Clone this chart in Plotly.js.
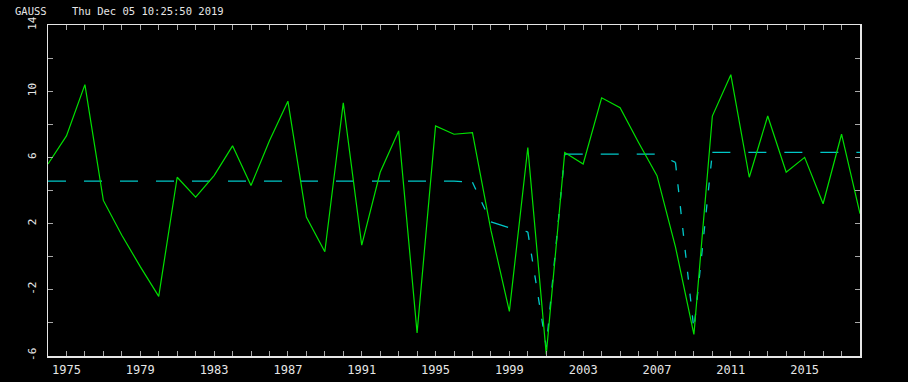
<!DOCTYPE html>
<html>
<head>
<meta charset="utf-8">
<script src="https://cdn.plot.ly/plotly-3.0.1.min.js"></script>
<style>
  html, body { margin: 0; padding: 0; background: #000; }
  #chart { width: 908px; height: 382px; }
</style>
</head>
<body>
<div id="chart"></div>
<script>
// Years 1974..2018
const years = [1974,1975,1976,1977,1978,1979,1980,1981,1982,1983,1984,1985,1986,1987,1988,1989,
  1990,1991,1992,1993,1994,1995,1996,1997,1998,1999,2000,2001,2002,2003,2004,2005,2006,2007,
  2008,2009,2010,2011,2012,2013,2014,2015,2016,2017,2018];

// Observed series (solid green)
const observed = [5.6,7.3,10.4,3.4,1.3,-0.6,-2.4,4.8,3.6,4.9,6.7,4.3,7.0,9.4,2.4,0.3,
  9.3,0.7,5.1,7.6,-4.6,7.9,7.4,7.5,1.6,-3.3,6.6,-5.9,6.3,5.6,9.6,9.0,6.9,4.9,
  0.6,-4.7,8.5,11.0,4.8,8.5,5.1,6.0,3.2,7.4,2.6];

// Fitted / regime series (dashed cyan)
const fitted = [4.57,4.57,4.57,4.57,4.57,4.57,4.57,4.57,4.57,4.57,4.57,4.57,4.57,4.57,4.57,4.57,
  4.57,4.57,4.57,4.57,4.57,4.57,4.57,4.5,2.1,1.75,1.5,-5.45,6.2,6.2,6.2,6.2,6.2,6.2,
  5.7,-4.4,6.3,6.3,6.3,6.3,6.3,6.3,6.3,6.3,6.3];

const yTicks = [-6,-2,2,6,10,14];
const xTicks = [1975,1979,1983,1987,1991,1995,1999,2003,2007,2011,2015];
const titleText = "GAUSS\u00a0\u00a0\u00a0\u00a0Thu Dec 05 10:25:50 2019";

const axisColor = "#e6e6e6";
const tickColor = "#a8a8a8";
const cyan = "#00c8c8";

// The dashed line restarts its dash pattern on each run of similar slope
// (as in the original plotting device), so split it into runs.
function cyanRuns() {
  const runs = [];
  let cur = null;
  for (let i = 0; i < years.length - 1; i++) {
    const steep = Math.abs(fitted[i + 1] - fitted[i]) > 1.2;
    if (!cur || cur.steep !== steep) {
      cur = { steep: steep, x: [years[i]], y: [fitted[i]] };
      runs.push(cur);
    }
    cur.x.push(years[i + 1]);
    cur.y.push(fitted[i + 1]);
  }
  return runs.map(r => ({
    x: r.x, y: r.y, type: "scatter", mode: "lines",
    line: { color: cyan, width: 1.3, dash: r.steep ? "8px,14px" : "18px,18px" },
    hoverinfo: "skip"
  }));
}

const traces = cyanRuns().concat([
  {
    x: years, y: observed, type: "scatter", mode: "lines",
    line: { color: "#00e000", width: 1.2 },
    hoverinfo: "skip"
  }
]);

const layout = {
  width: 908, height: 382,
  paper_bgcolor: "#000000", plot_bgcolor: "#000000",
  margin: { l: 48, r: 48, t: 25, b: 26, pad: 0 },
  showlegend: false,
  title: {
    text: titleText,
    x: 15 / 908, xanchor: "left", xref: "container",
    y: 1 - 11 / 382, yanchor: "middle", yref: "container",
    font: { family: "DejaVu Sans Mono", size: 10.5, color: "#e6e6e6" }
  },
  xaxis: {
    range: [1974, 2018],
    tickmode: "array", tickvals: xTicks, ticktext: xTicks.map(String),
    ticks: "inside", ticklen: 5, tickwidth: 1, tickcolor: tickColor,
    minor: { dtick: 1, tick0: 1974, ticks: "inside", ticklen: 5, tickwidth: 1, tickcolor: tickColor, showgrid: false },
    showline: true, linecolor: axisColor, linewidth: 1.5, mirror: "ticks",
    showgrid: false, zeroline: false,
    tickfont: { family: "DejaVu Sans Mono", size: 12, color: "#e6e6e6" },
    ticklabelstandoff: 2
  },
  yaxis: {
    range: [-6, 14],
    tickmode: "array", tickvals: yTicks, ticktext: yTicks.map(String),
    ticks: "inside", ticklen: 5, tickwidth: 1, tickcolor: tickColor,
    minor: { dtick: 2, tick0: -6, ticks: "inside", ticklen: 5, tickwidth: 1, tickcolor: tickColor, showgrid: false },
    showline: true, linecolor: axisColor, linewidth: 1.5, mirror: "ticks",
    showgrid: false, zeroline: false,
    tickangle: -90,
    tickfont: { family: "DejaVu Sans Mono", size: 11, color: "#e6e6e6" },
    ticklabelstandoff: 6
  }
};

Plotly.newPlot("chart", traces, layout, { staticPlot: true, displayModeBar: false });
</script>
</body>
</html>
